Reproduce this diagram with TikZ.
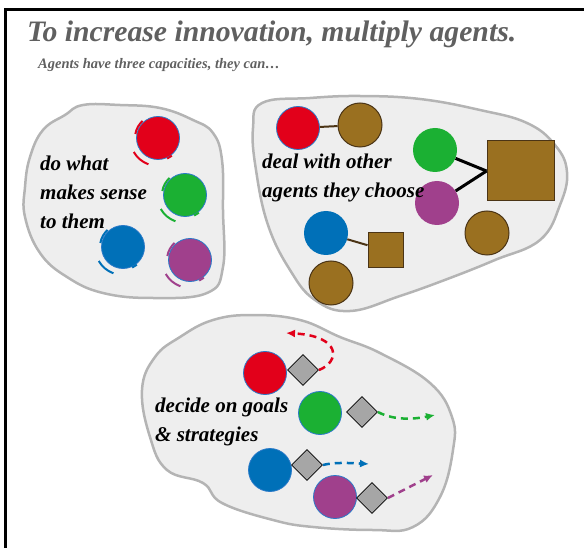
\documentclass[tikz,border=0pt]{standalone}
\usepackage{fontspec}
\setmainfont{Liberation Serif}
\usetikzlibrary{shapes.geometric,arrows.meta}

\definecolor{agred}{HTML}{E2001A}
\definecolor{aggreen}{HTML}{1BB033}
\definecolor{agblue}{HTML}{0070B8}
\definecolor{agpurple}{HTML}{A0408C}
\definecolor{agbrown}{HTML}{9A7020}
\definecolor{brownline}{HTML}{4B3415}
\definecolor{ring}{HTML}{2878C8}
\definecolor{blobfill}{HTML}{EEEEEE}
\definecolor{blobline}{HTML}{B4B4B4}
\definecolor{rulefill}{HTML}{A6A6A6}
\definecolor{headgray}{HTML}{606060}

\tikzset{
  blob/.style={fill=blobfill,draw=blobline,line width=2.5pt},
  agent/.style={circle,minimum size=43pt,inner sep=0pt,draw=ring,line width=0.8pt},
  bare/.style={circle,minimum size=44pt,inner sep=0pt},
  other/.style={circle,minimum size=44pt,inner sep=0pt,fill=agbrown,draw=brownline,line width=1pt},
  crate/.style={rectangle,inner sep=0pt,fill=agbrown,draw=brownline,line width=1pt},
  rulebox/.style={diamond,minimum size=31pt,inner sep=0pt,fill=rulefill,draw=black,line width=0.8pt},
  say/.style={font=\bfseries\itshape\fontsize{21}{29}\selectfont,align=left,anchor=north west,inner sep=0pt},
  goal/.style={line width=2.5pt,dash pattern=on 7pt off 5pt,-{Latex[length=9pt,width=8pt]}},
  turn/.style={line width=2pt},
}

\begin{document}
\begin{tikzpicture}[x=1pt,y=-1pt]
\useasboundingbox (0,0) rectangle (584,548);
\draw[line width=3pt] (5.5,548) -- (5.5,9.5) -- (584,9.5); %frame

\node[anchor=base west,inner sep=0pt,text=headgray,font=\bfseries\itshape\fontsize{29.7}{30}\selectfont] (head) at (27,42) {To increase innovation, multiply agents.};
\node[anchor=base west,inner sep=0pt,text=headgray,font=\bfseries\itshape\fontsize{14.5}{20}\selectfont] (sub) at (38,69) {Agents have three capacities, they can\dots};

% do what makes sense
\draw[blob] plot[smooth cycle,tension=0.7] coordinates {(83,105) (120,105) (160,108) (193,120) (213,133) (222,160) (223,210) (223,267) (207,293) (153,298) (103,293) (67,277) (40,253) (25,217) (25,187) (30,157) (43,130) (65,115)};
\node[say] (sense) at (40,156) {do what\\makes sense\\to them};
\node[agent,fill=agred]    (s1) at (158,138) {};
\node[agent,fill=aggreen]  (s2) at (185,195) {};
\node[agent,fill=agblue]   (s3) at (123,247) {};
\node[agent,fill=agpurple] (s4) at (190,260) {};
\foreach \n/\c in {s1/agred,s2/aggreen,s3/agblue,s4/agpurple}{
  \draw[turn,\c] ([shift={(190:23)}]\n.center) arc (190:228:23);
  \draw[turn,\c] ([shift={(110:28)}]\n.center) arc (110:150:28);
  \draw[turn,\c] ([shift={(52:22.5)}]\n.center) arc (52:66:22.5);
}

% deal with other agents
\draw[blob] plot[smooth cycle,tension=0.7] coordinates {(262,103) (310,98) (360,96) (420,99) (480,110) (527,123) (555,145) (567,172) (560,205) (540,240) (495,260) (450,278) (400,296) (350,311) (315,300) (290,270) (268,225) (256,170) (253,128)};
\node[agent,fill=agred] (t1) at (298,128) {};
\node[other] (o1) at (360,125) {};
\node[bare,fill=aggreen]  (t2) at (435,150) {};
\node[bare,fill=agpurple] (t3) at (437,203) {};
\node[crate,minimum width=67pt,minimum height=60pt] (q1) at (520.5,171) {};
\node[other] (o2) at (487,233) {};
\node[bare,fill=agblue] (t4) at (326,233) {};
\node[crate,minimum size=35pt] (q2) at (385.5,250.5) {};
\node[other] (o3) at (331,283) {};
\draw[brownline,line width=2pt] (t1) -- (o1);
\draw[black,line width=3pt] (t2) -- (q1.west);
\draw[black,line width=3pt] (t3) -- (q1.west);
\draw[brownline,line width=2pt] (t4) -- (q2);
\node[say] (deal) at (262,154) {deal with other\\agents they choose};

% decide on goals
\draw[blob] plot[smooth cycle,tension=0.7] coordinates {(253,315) (300,320) (340,337) (380,353) (430,383) (452,417) (453,450) (440,497) (413,527) (373,530) (313,527) (273,520) (222,503) (203,483) (167,470) (150,437) (142,390) (155,357) (180,337) (213,320)};
\node[say] (decide) at (155,398) {decide on goals\\\&\ strategies};
\node[agent,fill=agred]    (u1) at (265,373) {};
\node[agent,fill=aggreen]  (u2) at (320,413) {};
\node[agent,fill=agblue]   (u3) at (270,470) {};
\node[agent,fill=agpurple] (u4) at (335,497) {};
\node[rulebox] (d1) at (303,370) {};
\node[rulebox] (d2) at (362,412) {};
\node[rulebox] (d3) at (307,465) {};
\node[rulebox] (d4) at (372,498) {};
\coordinate (g1) at (286,333);
\coordinate (g2) at (435,415);
\coordinate (g3) at (369,464);
\coordinate (g4) at (433,475);
\draw[goal,agred] (d1.east) .. controls (340,362) and (342,336) .. (g1);
\draw[goal,aggreen] (d2.east) .. controls (395,421) and (415,419) .. (g2);
\draw[goal,agblue] (d3.east) .. controls (335,462) and (350,463) .. (g3);
\draw[goal,agpurple] (d4.east) -- (g4);

\end{tikzpicture}
\end{document}
